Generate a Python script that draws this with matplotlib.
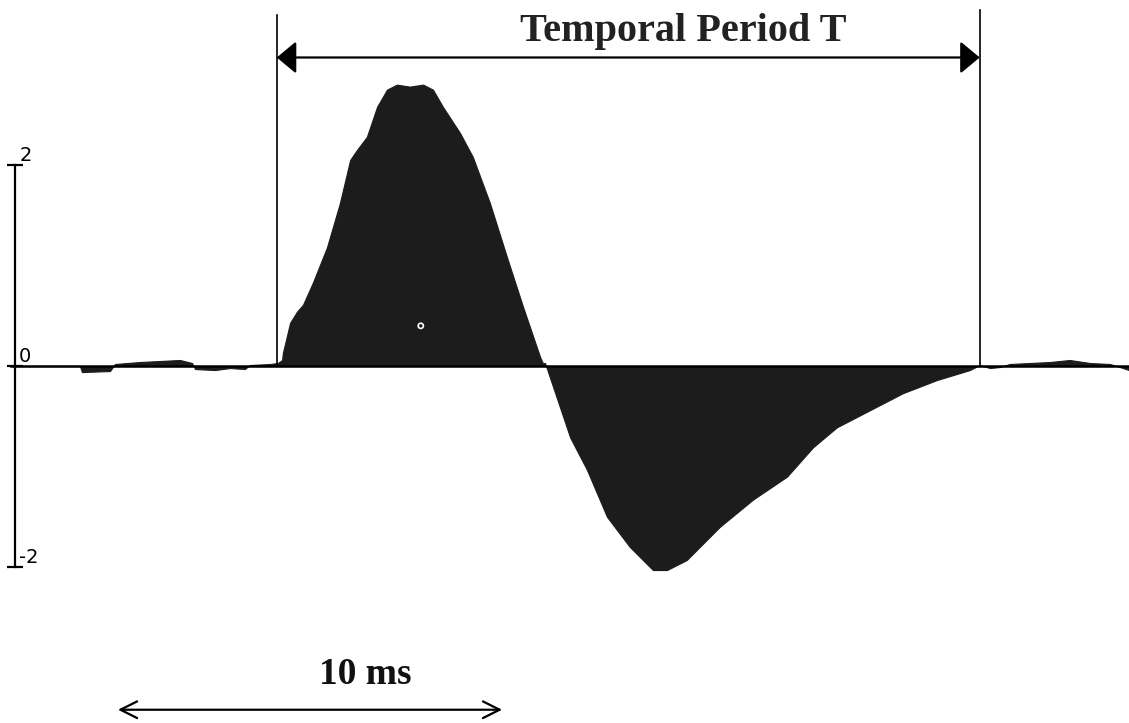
import numpy as np
import matplotlib
matplotlib.use('Agg')
import matplotlib.pyplot as plt

# waveform: time (ms) and amplitude
t_ms = [0.00, 1.71, 1.76, 2.50, 2.63, 3.29, 3.82, 4.34, 4.66, 4.74, 5.26, 5.66,
        6.05, 6.18, 6.71, 6.92, 7.03, 7.05, 7.24, 7.42, 7.58, 7.84, 8.21, 8.55,
        8.82, 9.00, 9.26, 9.53, 9.79, 10.05, 10.39, 10.74, 11.00, 11.26, 11.71,
        12.05, 12.50, 12.95, 13.37, 13.82, 13.89, 13.95, 14.61, 15.05, 15.58,
        16.18, 16.79, 17.16, 17.68, 18.55, 19.42, 20.32, 21.00, 21.63, 22.50,
        23.37, 24.26, 25.13, 25.39, 25.66, 25.92, 26.18, 27.24, 27.76, 28.29,
        28.82, 29.08, 29.32]
amp = [0.00, 0.00, -0.06, -0.05, 0.02, 0.04, 0.05, 0.06, 0.03, -0.03, -0.04, -0.02,
       -0.03, 0.01, 0.02, 0.03, 0.06, 0.13, 0.43, 0.54, 0.61, 0.83, 1.18, 1.62,
       2.05, 2.15, 2.28, 2.58, 2.75, 2.80, 2.78, 2.80, 2.75, 2.58, 2.32,
       2.08, 1.62, 1.08, 0.59, 0.09, 0.03, 0.03, -0.71, -1.03, -1.50,
       -1.80, -2.03, -2.03, -1.93, -1.60, -1.33, -1.10, -0.81, -0.61, -0.44,
       -0.27, -0.14, -0.04, 0.01, -0.02, -0.01, 0.02, 0.04, 0.06, 0.03,
       0.02, -0.01, -0.04]

yticks = [-2, 0, 2]
period_start, period_end = 6.89, 25.39   # ms
scale_start, scale_end = 2.71, 12.82     # 10 ms scale bar
period_label = 'Temporal Period T'
scale_label = '10 ms'

fig = plt.figure(figsize=(11.29, 7.23), dpi=100)
ax = fig.add_axes([0, 0, 1, 1])
ax.set_xlim(-0.395, 29.32)
ax.set_ylim(-3.552, 3.642)

ax.fill_between(t_ms, amp, 0, color='#1c1c1c', lw=0.8, edgecolor='#1c1c1c')
ax.scatter([10.68], [0.40], s=14, facecolor='none', edgecolor='white', lw=1.2, zorder=3)

# axes: baseline at zero and short left spine
for s in ['top', 'right']:
    ax.spines[s].set_visible(False)
ax.spines['bottom'].set_position(('data', 0))
ax.spines['bottom'].set_bounds(-0.1, 29.32)
ax.spines['bottom'].set_linewidth(1.8)
ax.spines['left'].set_position(('data', 0))
ax.spines['left'].set_bounds(-2, 2)
ax.spines['left'].set_linewidth(1.6)
ax.set_xticks([])
ax.set_yticks(yticks)
ax.set_yticklabels([str(v) for v in yticks])
ax.tick_params(axis='y', direction='inout', length=12, width=1.6, pad=-9, labelsize=14)
for lab in ax.get_yticklabels():
    lab.set_horizontalalignment('left')
    lab.set_verticalalignment('bottom')

# temporal period markers
ax.plot([period_start, period_start], [0, 3.49], color='k', lw=1.2)
ax.plot([period_end, period_end], [0, 3.54], color='k', lw=1.2)
ax.annotate('', xy=(period_end, 3.07), xytext=(period_start, 3.07),
            arrowprops=dict(arrowstyle='<|-|>,head_length=0.6,head_width=0.5',
                            mutation_scale=20, lw=1.6, color='k',
                            shrinkA=0, shrinkB=0))
ax.text(17.58, 3.33, period_label, ha='center', va='center', fontsize=29,
        fontweight='bold', family='Liberation Serif', color='#222222')

# 10 ms scale bar
ax.annotate('', xy=(scale_end, -3.42), xytext=(scale_start, -3.42),
            arrowprops=dict(arrowstyle='<->,head_length=0.6,head_width=0.3',
                            mutation_scale=20, lw=1.6, color='k',
                            shrinkA=0, shrinkB=0))
ax.text(9.21, -3.07, scale_label, ha='center', va='center', fontsize=27,
        fontweight='bold', family='Liberation Serif', color='#111111')

fig.savefig('out.png', dpi=100)
